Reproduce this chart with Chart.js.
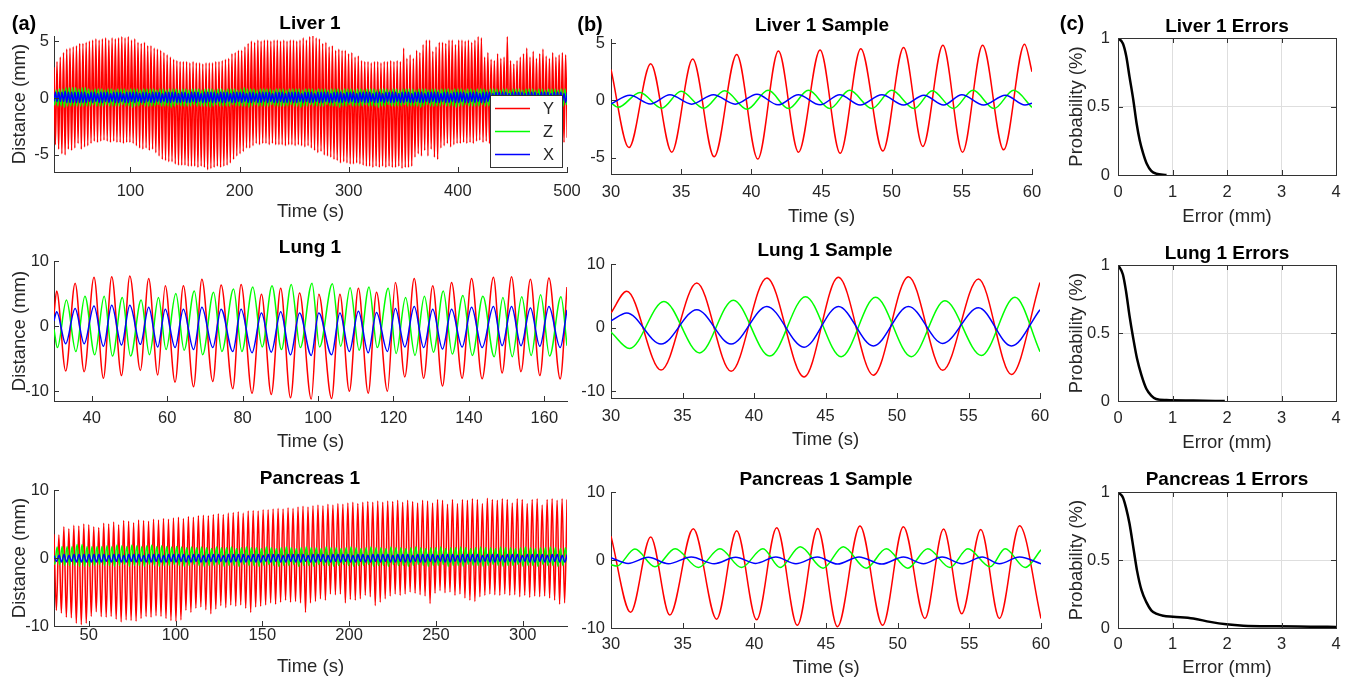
<!DOCTYPE html>
<html>
<head>
<meta charset="utf-8">
<script src="https://cdn.jsdelivr.net/npm/chart.js@4.4.0/dist/chart.umd.min.js"></script>
<style>
  body { margin: 0; background: #fff; }
  #fig { position: relative; width: 1351px; height: 678px; overflow: hidden; font-family: "Liberation Sans", Arial, sans-serif; }
  #fig canvas { position: absolute; left: 0; top: 0; }
  .lbl { position: absolute; transform: translate(-50%, -50%); white-space: nowrap; font-weight: bold; font-size: 19px; line-height: 1; color: #000; }
  .tag { font-size: 20px; }
</style>
</head>
<body>
<div id="fig"></div>
<script>
// ---- tick values ----
const liverTimeTicks = [100, 200, 300, 400, 500];
const lungTimeTicks = [40, 60, 80, 100, 120, 140, 160];
const pancTimeTicks = [50, 100, 150, 200, 250, 300];
const sampleTimeTicks = [30, 35, 40, 45, 50, 55, 60];
const errorTicks = [0, 1, 2, 3, 4];
const liverDistTicks = [-5, 0, 5];
const wideDistTicks = [-10, 0, 10];
const probTicks = [0, 0.5, 1];

// ---- Liver 1, full trace: one trough + one peak per breathing cycle ----
const liverCycle = { t0: 31.28, period: 2.968 };
const liverYTroughs = [
  -4.1,-4.5,-4.9,-5.0,-4.5,-4.6,-4.4,-4.0,-4.5,-4.3,
  -4.2,-4.0,-3.8,-3.9,-3.8,-3.7,-3.8,-3.9,-3.8,-3.9,
  -3.9,-4.0,-3.9,-3.9,-4.0,-4.2,-4.4,-4.5,-4.4,-4.6,
  -4.5,-4.8,-5.1,-5.4,-5.5,-5.6,-5.6,-5.8,-5.9,-5.9,
  -5.9,-6.0,-6.0,-6.0,-6.1,-6.0,-6.1,-6.3,-6.2,-6.1,
  -6.0,-6.1,-6.0,-5.9,-5.7,-5.4,-5.1,-4.9,-4.7,-4.4,
  -4.4,-4.2,-4.0,-4.1,-4.0,-4.0,-4.1,-4.0,-4.1,-4.1,
  -4.1,-4.2,-4.1,-4.1,-4.2,-4.1,-4.2,-4.3,-4.2,-4.4,
  -4.6,-4.8,-4.7,-5.0,-5.1,-5.2,-5.4,-5.5,-5.7,-5.6,
  -5.7,-5.8,-5.8,-5.7,-5.8,-5.9,-6.0,-6.0,-6.1,-6.0,
  -6.1,-6.0,-6.1,-6.0,-6.1,-6.1,-6.0,-6.2,-6.1,-6.1,
  -6.0,-5.2,-4.9,-5.1,-4.6,-5.1,-4.5,-5.2,-5.4,-4.4,
  -4.2,-4.0,-4.3,-4.1,-4.0,-4.0,-3.9,-4.0,-3.9,-4.0,
  -3.8,-3.7,-3.9,-3.8,-4.0,-3.9,-3.8,-3.9,-4.0,-3.9,
  -3.8,-3.9,-4.0,-3.9,-3.8,-3.9,-4.0,-3.9,-3.8,-3.9,
  -4.0,-3.9,-3.8,-3.9,-4.0,-3.9,-3.8,-3.9,-3.5
];
const liverYPeaks = [
  3.2,3.6,4.0,4.3,4.4,4.5,4.6,4.8,4.8,4.9,
  5.0,5.1,5.2,5.1,5.2,5.3,5.1,5.3,5.2,5.3,
  5.4,5.3,5.4,5.1,5.2,4.9,4.8,4.9,4.6,4.6,
  4.4,4.3,4.2,4.0,3.8,3.6,3.4,3.3,3.2,3.2,
  3.2,3.1,3.2,3.1,3.1,3.0,3.1,3.1,3.1,3.2,
  3.2,3.3,3.4,3.5,3.9,4.0,4.2,4.2,4.5,4.8,
  5.0,4.9,5.1,5.0,5.1,5.1,5.0,5.1,5.1,5.0,
  5.1,5.0,5.1,5.1,5.0,5.1,5.3,5.1,5.4,5.5,
  5.3,5.2,4.8,4.9,4.5,4.6,4.2,4.3,4.2,4.2,
  3.9,4.0,3.6,3.7,3.3,3.2,3.2,3.1,3.2,3.2,
  3.1,3.2,3.2,3.3,3.2,3.3,3.2,4.4,3.5,3.8,
  3.5,4.2,4.0,4.7,5.1,5.1,4.1,4.5,4.9,4.9,
  4.8,5.1,5.1,4.7,5.1,5.1,5.0,5.1,4.9,5.1,
  5.4,5.3,3.6,4.0,3.4,3.3,3.9,3.5,3.6,5.4,
  3.3,3.0,3.3,3.6,3.9,4.4,3.6,4.1,3.5,3.9,
  4.3,3.7,3.5,4.0,3.6,3.8,4.0,3.8
];
const liverZTroughs = [
  -0.6,-0.7,-0.7,-0.8,-0.7,-0.7,-0.7,-0.7,-0.7,-0.7,
  -0.7,-0.7,-0.6,-0.7,-0.7,-0.7,-0.6,-0.7,-0.7,-0.7,
  -0.7,-0.6,-0.7,-0.7,-0.8,-0.7,-0.7,-0.6,-0.7,-0.7,
  -0.7,-0.7,-0.6,-0.7,-0.7,-0.7,-0.8,-0.7,-0.6,-0.7,
  -0.7,-0.7,-0.7,-0.6,-0.7,-0.7,-0.7,-0.7,-0.8,-0.7,
  -0.6,-0.7,-0.7,-0.7,-0.7,-0.6,-0.7,-0.7,-0.7,-0.7,
  -0.8,-0.7,-0.6,-0.7,-0.7,-0.7,-0.7,-0.6,-0.7,-0.7,
  -0.7,-0.7,-0.7,-0.6,-0.7,-0.7,-0.8,-0.7,-0.7,-0.6,
  -0.7,-0.7,-0.7,-0.7,-0.6,-0.7,-0.7,-0.7,-0.8,-0.7,
  -0.7,-0.6,-0.7,-0.7,-0.7,-0.7,-0.6,-0.7,-0.7,-0.7,
  -0.8,-0.7,-0.7,-0.6,-0.7,-0.7,-0.7,-0.7,-0.6,-0.7,
  -0.7,-0.7,-0.7,-0.8,-0.7,-0.6,-0.7,-0.7,-0.7,-0.7,
  -0.6,-0.7,-0.7,-0.7,-0.8,-0.7,-0.7,-0.6,-0.7,-0.7,
  -0.7,-0.7,-0.6,-0.7,-0.7,-0.7,-0.8,-0.7,-0.6,-0.7,
  -0.7,-0.7,-0.7,-0.6,-0.7,-0.7,-0.7,-0.8,-0.7,-0.7,
  -0.6,-0.7,-0.7,-0.7,-0.7,-0.6,-0.7,-0.7,-0.6
];
const liverZPeaks = [
  0.7,0.8,0.8,0.9,0.9,0.9,0.9,0.8,0.9,0.9,
  0.8,0.7,0.8,0.8,0.8,0.7,0.8,0.8,0.7,0.8,
  0.8,0.8,0.7,0.8,0.8,0.8,0.7,0.8,0.8,0.8,
  0.8,0.7,0.8,0.8,0.7,0.8,0.8,0.8,0.7,0.8,
  0.8,0.7,0.8,0.8,0.8,0.7,0.8,0.8,0.8,0.7,
  0.8,0.8,0.7,0.8,0.8,0.8,0.7,0.8,0.9,0.8,
  0.8,0.8,0.7,0.8,0.8,0.8,0.8,0.7,0.8,0.8,
  0.8,0.7,0.8,0.8,0.8,0.8,0.7,0.8,0.8,0.8,
  0.7,0.8,0.8,0.8,0.7,0.8,0.8,0.8,0.7,0.8,
  0.8,0.8,0.7,0.8,0.8,0.7,0.8,0.8,0.8,0.7,
  0.8,0.8,0.8,0.7,0.8,0.8,0.7,0.8,0.8,0.8,
  0.8,0.7,0.8,0.8,0.8,0.7,0.8,0.8,0.7,0.8,
  0.8,0.8,0.7,0.8,0.8,0.8,0.7,0.8,0.8,0.7,
  0.8,0.8,0.8,0.7,0.8,0.8,0.8,0.7,0.8,0.8,
  0.7,0.8,0.8,0.8,0.7,0.8,0.8,0.8,0.7,0.8,
  0.8,0.7,0.8,0.8,0.8,0.7,0.8,0.8
];
const liverXPeaks = [
  0.5,0.5,0.5,0.6,0.5,0.5,0.5,0.5,0.5,0.5,
  0.4,0.5,0.5,0.4,0.5,0.5,0.5,0.4,0.5,0.5,
  0.5,0.4,0.5,0.5,0.5,0.5,0.4,0.5,0.5,0.4,
  0.5,0.5,0.5,0.4,0.5,0.5,0.5,0.5,0.4,0.5,
  0.5,0.4,0.5,0.5,0.5,0.4,0.5,0.5,0.5,0.5,
  0.4,0.5,0.5,0.5,0.4,0.5,0.5,0.5,0.5,0.4,
  0.5,0.5,0.4,0.5,0.5,0.5,0.5,0.4,0.5,0.5,
  0.5,0.4,0.5,0.5,0.5,0.5,0.4,0.5,0.5,0.5,
  0.4,0.5,0.5,0.5,0.5,0.4,0.5,0.5,0.5,0.4,
  0.5,0.5,0.5,0.4,0.5,0.5,0.5,0.5,0.4,0.5,
  0.5,0.4,0.5,0.5,0.5,0.5,0.4,0.5,0.5,0.5,
  0.4,0.5,0.5,0.5,0.4,0.5,0.5,0.5,0.5,0.4,
  0.5,0.5,0.4,0.5,0.5,0.5,0.5,0.4,0.5,0.5,
  0.5,0.4,0.5,0.5,0.5,0.4,0.5,0.5,0.5,0.5,
  0.4,0.5,0.5,0.5,0.5,0.4,0.5,0.5,0.5,0.4,
  0.5,0.5,0.5,0.4,0.5,0.5,0.5,0.4,0.5
];
const liverXTroughs = [
  -0.3,-0.3,-0.3,-0.4,-0.4,-0.4,-0.4,-0.4,-0.4,-0.4,
  -0.3,-0.4,-0.3,-0.4,-0.4,-0.3,-0.4,-0.3,-0.4,-0.4,
  -0.3,-0.4,-0.4,-0.3,-0.4,-0.3,-0.4,-0.4,-0.3,-0.4,
  -0.4,-0.3,-0.4,-0.3,-0.4,-0.4,-0.3,-0.4,-0.4,-0.3,
  -0.4,-0.4,-0.3,-0.4,-0.3,-0.4,-0.4,-0.3,-0.4,-0.4,
  -0.3,-0.4,-0.4,-0.3,-0.4,-0.4,-0.3,-0.4,-0.3,-0.4,
  -0.4,-0.3,-0.4,-0.4,-0.3,-0.4,-0.3,-0.4,-0.4,-0.3,
  -0.4,-0.4,-0.3,-0.4,-0.4,-0.3,-0.4,-0.3,-0.4,-0.4,
  -0.3,-0.4,-0.4,-0.3,-0.4,-0.4,-0.3,-0.4,-0.4,-0.3,
  -0.4,-0.3,-0.4,-0.4,-0.3,-0.4,-0.4,-0.3,-0.4,-0.4,
  -0.3,-0.4,-0.3,-0.4,-0.4,-0.3,-0.4,-0.4,-0.3,-0.4,
  -0.4,-0.3,-0.4,-0.4,-0.3,-0.4,-0.3,-0.4,-0.4,-0.3,
  -0.4,-0.4,-0.3,-0.4,-0.4,-0.3,-0.4,-0.4,-0.3,-0.4,
  -0.3,-0.4,-0.4,-0.3,-0.4,-0.4,-0.3,-0.4,-0.4,-0.3,
  -0.4,-0.4,-0.3,-0.4,-0.3,-0.4,-0.4,-0.3,-0.4,-0.4,
  -0.3,-0.4,-0.4,-0.3,-0.4,-0.4,-0.3,-0.4
];

// ---- Lung 1, full trace (time, mm) ----
const lungY = [
  [30,1.8],[30.7,5.4],[33.1,-6.9],[35.6,6.6],[38.0,-7.0],[40.6,7.5],[43.1,-8.0],[45.3,7.6],
  [47.9,-7.6],[50.1,7.7],[52.9,-6.8],[55.1,7.3],[57.5,-7.5],[59.5,6.2],[62.1,-8.6],[64.3,6.2],
  [67.0,-9.3],[69.2,7.2],[72.1,-8.5],[74.3,6.3],[77.4,-9.6],[79.6,6.4],[82.5,-10.3],[85.0,4.9],
  [87.6,-10.5],[90.1,5.8],[92.7,-11.0],[95.1,5.1],[98.2,-11.2],[100.2,4.9],[103.6,-11.1],[105.8,4.9],
  [108.3,-10.0],[110.7,5.8],[113.3,-10.3],[115.5,5.2],[118.4,-10.0],[120.5,6.7],[123.0,-7.8],[125.5,7.3],
  [128.0,-8.0],[130.4,6.2],[133.0,-9.2],[135.4,6.7],[138.2,-8.0],[140.7,7.3],[143.5,-8.1],[146.5,7.5],
  [148.8,-7.2],[151.3,7.6],[153.8,-7.0],[156.3,7.2],[158.8,-7.6],[161.2,7.4],[164.2,-8.1],[166,6.0]
];
const lungZ = [
  [30,-0.5],[30.9,-3.3],[33.3,4.0],[35.8,-3.9],[38.2,4.6],[40.8,-4.4],[43.3,4.6],[45.5,-4.6],
  [48.1,4.4],[50.3,-4.6],[53.1,4.0],[55.3,-4.4],[57.7,4.4],[59.7,-3.6],[62.3,5.0],[64.5,-3.7],
  [67.2,5.4],[69.4,-4.4],[72.3,5.2],[74.5,-3.9],[77.6,5.7],[79.8,-3.9],[82.7,6.0],[85.2,-3.2],
  [87.8,6.2],[90.3,-3.6],[92.9,6.4],[95.3,-3.3],[98.4,6.6],[100.4,-3.2],[103.8,6.5],[106.0,-3.1],
  [108.5,5.9],[110.9,-3.7],[113.5,6.0],[115.7,-3.3],[118.6,5.8],[120.7,-4.2],[123.2,4.4],[125.7,-4.5],
  [128.2,4.6],[130.6,-4.0],[133.2,5.4],[135.6,-4.3],[138.4,4.7],[140.9,-4.5],[143.7,4.6],[146.7,-4.7],
  [149.0,4.4],[151.5,-4.7],[154.0,4.5],[156.5,-4.5],[159.0,4.8],[161.4,-4.6],[164.4,4.5],[166,-3.0]
];
const lungX = [
  [30,0.8],[30.7,2.2],[33.1,-2.7],[35.6,2.7],[38.0,-2.7],[40.6,3.1],[43.1,-3.1],[45.3,3.2],
  [47.9,-2.9],[50.1,3.2],[52.9,-2.8],[55.1,2.9],[57.5,-3.2],[59.5,2.6],[62.1,-3.3],[64.3,2.6],
  [67.0,-3.6],[69.2,2.9],[72.1,-3.3],[74.3,2.6],[77.4,-3.9],[79.6,2.6],[82.5,-4.1],[85.0,2.0],
  [87.6,-4.0],[90.1,2.2],[92.7,-4.4],[95.1,2.0],[98.2,-4.5],[100.2,2.0],[103.6,-4.4],[105.8,2.0],
  [108.3,-3.9],[110.7,2.3],[113.3,-4.1],[115.5,2.1],[118.4,-3.9],[120.5,2.7],[123.0,-3.2],[125.5,3.0],
  [128.0,-3.3],[130.4,2.6],[133.0,-3.5],[135.4,2.6],[138.2,-3.2],[140.7,2.9],[143.5,-3.3],[146.5,3.0],
  [148.8,-3.0],[151.3,3.0],[153.8,-3.0],[156.3,2.8],[158.8,-3.1],[161.2,3.0],[164.2,-3.3],[166,2.5]
];

// ---- Pancreas 1, full trace: one trough + one peak per cycle ----
const pancCycle = { t0: 31.37, period: 2.87 };
const pancYTroughs = [
  -7.7,-8.1,-8.7,-8.8,-9.6,-9.8,-9.6,-8.6,-7.9,-8.6,
  -8.7,-8.6,-9.0,-9.4,-9.1,-9.2,-9.3,-8.9,-8.6,-8.7,
  -8.5,-8.6,-8.9,-9.2,-9.3,-9.1,-7.7,-8.0,-7.4,-7.2,
  -7.6,-8.2,-7.5,-7.0,-7.3,-6.9,-7.1,-6.9,-7.4,-8.0,
  -7.2,-7.1,-6.9,-6.6,-6.8,-6.5,-6.2,-6.5,-6.4,-6.6,
  -8.0,-6.6,-6.4,-6.0,-6.2,-5.3,-5.4,-5.3,-6.6,-6.1,
  -6.2,-6.0,-5.5,-5.7,-7.0,-6.5,-6.0,-5.6,-5.3,-5.5,
  -5.3,-5.0,-5.2,-5.4,-5.6,-6.7,-5.2,-4.8,-5.1,-5.0,
  -5.5,-5.3,-5.9,-6.2,-6.4,-5.7,-5.5,-5.3,-5.4,-5.5,
  -5.3,-5.5,-5.4,-5.7,-5.5,-5.8,-5.6,-5.7,-5.6,-5.9,
  -6.2,-6.8,-6.6
];
const pancYPeaks = [
  3.4,4.6,4.3,4.8,4.7,5.0,4.9,4.6,4.5,5.1,
  5.0,5.3,4.9,5.5,5.4,5.2,5.6,5.5,5.4,5.7,
  5.6,5.8,5.7,5.9,6.0,5.8,6.1,6.0,6.2,6.3,
  6.2,6.4,6.5,6.4,6.6,6.7,6.8,6.6,6.9,7.0,
  6.9,7.1,7.1,7.2,7.3,7.2,7.4,7.3,7.5,7.6,
  7.5,7.7,7.8,7.7,7.9,7.8,8.0,7.9,8.1,8.2,
  8.0,8.2,8.3,8.2,8.4,8.2,8.4,8.3,8.5,8.2,
  8.5,8.3,8.1,8.5,8.4,8.1,8.6,8.5,7.9,8.6,
  8.0,8.6,8.5,8.7,8.6,8.0,8.8,8.6,8.5,8.7,
  8.6,8.1,8.7,8.6,8.0,8.6,8.7,7.8,8.6,8.7,
  8.5,8.7,8.6
];
const pancZPeaks = [
  1.6,1.7,1.7,1.7,2.0,2.0,1.7,1.7,1.7,1.7,
  1.8,1.7,1.9,1.8,1.7,1.9,1.8,1.7,1.8,1.9,
  1.7,1.8,1.7,1.6,1.7,1.6,1.5,1.6,1.5,1.6,
  1.5,1.4,1.6,1.5,1.5,1.6,1.4,1.5,1.6,1.5,
  1.5,1.4,1.6,1.5,1.4,1.5,1.6,1.5,1.4,1.5,
  1.6,1.5,1.5,1.4,1.6,1.5,1.5,1.4,1.5,1.6,
  1.5,1.4,1.5,1.6,1.5,1.5,1.4,1.6,1.5,1.5,
  1.4,1.5,1.6,1.5,1.4,1.5,1.5,1.6,1.4,1.5,
  1.5,1.6,1.5,1.4,1.5,1.6,1.5,1.5,1.4,1.6,
  1.5,1.5,1.4,1.5,1.6,1.5,1.4,1.5,1.5,1.6,
  1.5,1.4,1.5
];
const pancZTroughs = [
  -1.0,-1.1,-1.1,-1.1,-1.2,-1.2,-1.2,-1.1,-1.0,-1.1,
  -1.1,-1.2,-1.1,-1.0,-1.2,-1.1,-1.1,-1.2,-1.0,-1.1,
  -1.2,-1.1,-1.1,-1.0,-1.1,-1.2,-1.1,-1.0,-1.1,-1.2,
  -1.1,-1.1,-1.0,-1.2,-1.1,-1.1,-1.2,-1.0,-1.1,-1.1,
  -1.2,-1.1,-1.0,-1.1,-1.2,-1.1,-1.1,-1.0,-1.2,-1.1,
  -1.1,-1.2,-1.0,-1.1,-1.1,-1.2,-1.1,-1.0,-1.1,-1.2,
  -1.1,-1.1,-1.0,-1.2,-1.1,-1.1,-1.2,-1.0,-1.1,-1.1,
  -1.2,-1.1,-1.0,-1.1,-1.2,-1.1,-1.1,-1.0,-1.2,-1.1,
  -1.1,-1.2,-1.0,-1.1,-1.1,-1.2,-1.1,-1.0,-1.1,-1.2,
  -1.1,-1.1,-1.0,-1.2,-1.1,-1.1,-1.2,-1.0,-1.1,-1.1,
  -1.2,-1.1,-1.0
];
const pancXTroughs = [
  -0.5,-0.6,-0.6,-0.5,-0.6,-0.6,-0.6,-0.6,-0.6,-0.6,
  -0.5,-0.6,-0.5,-0.6,-0.6,-0.5,-0.6,-0.5,-0.6,-0.6,
  -0.5,-0.6,-0.6,-0.5,-0.6,-0.5,-0.6,-0.6,-0.5,-0.6,
  -0.6,-0.5,-0.6,-0.5,-0.6,-0.6,-0.5,-0.6,-0.6,-0.5,
  -0.6,-0.6,-0.5,-0.6,-0.5,-0.6,-0.6,-0.5,-0.6,-0.6,
  -0.5,-0.6,-0.6,-0.5,-0.6,-0.6,-0.5,-0.6,-0.5,-0.6,
  -0.6,-0.5,-0.6,-0.6,-0.5,-0.6,-0.5,-0.6,-0.6,-0.5,
  -0.6,-0.6,-0.5,-0.6,-0.6,-0.5,-0.6,-0.5,-0.6,-0.6,
  -0.5,-0.6,-0.6,-0.5,-0.6,-0.6,-0.5,-0.6,-0.6,-0.5,
  -0.6,-0.5,-0.6,-0.6,-0.5,-0.6,-0.6,-0.5,-0.6,-0.6,
  -0.5,-0.6,-0.6
];
const pancXPeaks = [
  0.4,0.5,0.4,0.5,0.5,0.5,0.5,0.5,0.5,0.5,
  0.4,0.5,0.5,0.4,0.5,0.5,0.5,0.4,0.5,0.5,
  0.5,0.4,0.5,0.5,0.5,0.5,0.4,0.5,0.5,0.4,
  0.5,0.5,0.5,0.4,0.5,0.5,0.5,0.5,0.4,0.5,
  0.5,0.4,0.5,0.5,0.5,0.4,0.5,0.5,0.5,0.5,
  0.4,0.5,0.5,0.5,0.4,0.5,0.5,0.5,0.5,0.4,
  0.5,0.5,0.4,0.5,0.5,0.5,0.5,0.4,0.5,0.5,
  0.5,0.4,0.5,0.5,0.5,0.5,0.4,0.5,0.5,0.5,
  0.4,0.5,0.5,0.5,0.5,0.4,0.5,0.5,0.5,0.4,
  0.5,0.5,0.5,0.4,0.5,0.5,0.5,0.5,0.4,0.5,
  0.5,0.4,0.5
];

// ---- 30 s samples (time, mm) ----
const liverSampleY = [
  [30,2.7],[31.28,-4.1],[32.83,3.2],[34.33,-4.5],[35.82,3.6],[37.35,-4.9],[38.96,4.0],[40.46,-5.1],
  [41.93,4.3],[43.36,-4.5],[44.90,4.4],[46.33,-4.6],[47.80,4.5],[49.37,-4.4],[50.85,4.6],[52.22,-4.0],
  [53.65,4.8],[55.05,-4.5],[56.48,4.8],[57.98,-4.3],[59.47,4.9],[60,2.5]
];
const liverSampleZ = [
  [30,-0.2],[30.5,-0.6],[32.07,0.7],[33.6,-0.67],[35.0,0.8],[36.6,-0.67],[38.1,0.85],[39.7,-0.76],
  [41.2,0.88],[42.65,-0.7],[44.07,0.88],[45.6,-0.7],[47.0,0.88],[48.6,-0.7],[50.0,0.88],[51.6,-0.7],
  [52.9,0.85],[54.4,-0.7],[55.8,0.88],[57.3,-0.7],[58.7,0.88],[60,-0.6]
];
const liverSampleX = [
  [30,-0.3],[31.35,0.45],[32.8,-0.3],[34.2,0.5],[35.75,-0.32],[37.3,0.5],[38.85,-0.32],[40.4,0.55],
  [41.9,-0.38],[43.35,0.5],[44.9,-0.38],[46.3,0.5],[47.75,-0.4],[49.3,0.5],[50.85,-0.4],[52.3,0.45],
  [53.7,-0.4],[55.0,0.5],[56.55,-0.4],[58.1,0.45],[59.5,-0.4],[60,-0.25]
];
const lungSampleY = [
  [30,2.3],[31.1,5.7],[33.5,-6.7],[36.0,7.0],[38.4,-6.9],[40.9,7.8],[43.5,-7.8],[45.9,7.9],
  [48.35,-7.5],[50.8,8.0],[53.2,-6.75],[55.7,7.65],[58.0,-7.4],[60,7.1]
];
const lungSampleZ = [
  [30,-0.7],[31.3,-3.3],[33.7,4.1],[36.2,-4.0],[38.55,4.3],[41.1,-4.5],[43.6,4.85],[46.1,-4.6],
  [48.5,4.75],[51.0,-4.6],[53.35,4.2],[55.9,-4.4],[58.25,4.75],[60,-3.8]
];
const lungSampleX = [
  [30,1.05],[31.1,2.3],[33.5,-2.6],[36.0,2.8],[38.4,-2.6],[40.9,3.3],[43.5,-3.1],[45.9,3.3],
  [48.35,-2.9],[50.8,3.3],[53.2,-2.5],[55.7,3.1],[58.0,-2.9],[60,2.8]
];
const pancSampleY = [
  [30,3.5],[31.37,-7.7],[32.77,3.4],[34.1,-8.1],[35.74,4.6],[37.37,-8.7],[38.77,4.3],[40.16,-8.8],
  [41.56,4.75],[43.0,-9.6],[44.42,4.65],[45.8,-9.8],[47.37,5.0],[48.95,-9.6],[50.4,4.9],[51.9,-8.6],
  [53.2,4.55],[54.47,-7.9],[55.8,4.5],[57.1,-8.6],[58.5,5.05],[60,-8.6]
];
const pancSampleZ = [
  [30,-0.7],[30.4,-0.9],[31.67,1.6],[33.07,-1.0],[34.47,1.65],[36.1,-1.1],[37.6,1.65],[39.1,-1.1],
  [40.6,1.65],[41.8,-1.1],[43.2,1.95],[44.8,-1.2],[46.2,1.95],[47.8,-1.2],[49.2,1.65],[50.7,-1.2],
  [52.1,1.65],[53.65,-1.1],[54.9,1.65],[56.45,-1.0],[57.5,1.65],[58.9,-1.1],[60,1.5]
];
const pancSampleX = [
  [30,0.35],[31.2,-0.5],[32.6,0.4],[34.0,-0.55],[35.6,0.45],[37.2,-0.55],[38.7,0.4],[40.1,-0.5],
  [41.5,0.45],[42.9,-0.55],[44.4,0.45],[45.8,-0.6],[47.3,0.45],[48.9,-0.6],[50.4,0.45],[51.8,-0.55],
  [53.1,0.45],[54.5,-0.55],[55.9,0.45],[57.1,-0.55],[58.5,0.45],[60,-0.55]
];

// ---- error distributions (mm, probability) ----
const liverErr = [[0,1],[0.09,0.96],[0.15,0.87],[0.21,0.72],[0.28,0.55],[0.34,0.38],[0.4,0.25],[0.46,0.16],[0.53,0.08],[0.61,0.03],[0.7,0.01],[0.89,0]];
const lungErr = [[0,1],[0.09,0.93],[0.15,0.8],[0.21,0.63],[0.28,0.46],[0.35,0.31],[0.43,0.19],[0.52,0.09],[0.61,0.04],[0.7,0.015],[0.89,0.007],[1.38,0.003],[1.96,0]];
const pancErr = [[0,1],[0.09,0.96],[0.15,0.88],[0.21,0.77],[0.29,0.57],[0.35,0.42],[0.43,0.28],[0.52,0.19],[0.61,0.13],[0.7,0.105],[0.83,0.09],[1.01,0.083],[1.38,0.07],[1.69,0.045],[1.99,0.027],[2.3,0.017],[2.91,0.012],[3.53,0.01],[4.0,0.008]];

// ------------------------------------------------------------------
const W = 1351, H = 678;
const RED = '#ff0000', GREEN = '#00ff00', BLUE = '#0000ff';
const AXIS = '#333333', TEXT = '#262626';
Chart.defaults.font.family = '"Liberation Sans", Arial, sans-serif';
Chart.defaults.color = TEXT;

const pts = list => list.map(([x, y]) => ({ x, y }));

// lead points, then alternating values on the cycle grid
function cycleSeries(lead, t0, period, first, second) {
  const out = pts(lead);
  first.forEach((v, k) => {
    out.push({ x: t0 + k * period, y: v });
    if (k < second.length) out.push({ x: t0 + k * period + period / 2, y: second[k] });
  });
  return out;
}

function trace(data, color, order, width) {
  return { data, borderColor: color, borderWidth: width || 1.5, order, fill: false,
           pointRadius: 0, cubicInterpolationMode: 'monotone' };
}

const L = liverCycle, P = pancCycle;
const panels = [
  { box: [54, 36, 567, 172], x: [30, 500], y: [-6.5, 5.45], xTicks: liverTimeTicks, yTicks: liverDistTicks,
    yTitle: 'Distance (mm)', xTitle: 'Time (s)', tickPad: 10, titleOff: 40, yLabelPad: 5, yTitleX: 20, legend: true,
    datasets: [
      trace(cycleSeries([[30, -0.3]], L.t0 + 0.05, L.period, liverXPeaks, liverXTroughs), BLUE, 1),
      trace(cycleSeries([[30, -0.2]], L.t0 - 0.74, L.period, liverZTroughs, liverZPeaks), GREEN, 2),
      trace(cycleSeries([[30, 2.7]], L.t0, L.period, liverYTroughs, liverYPeaks), RED, 3)
    ] },
  { box: [611, 39, 1032, 174], x: [30, 60], y: [-6.4, 5.35], xTicks: sampleTimeTicks, yTicks: liverDistTicks,
    xTitle: 'Time (s)', tickPad: 9, titleOff: 43, yLabelPad: 6,
    datasets: [trace(pts(liverSampleX), BLUE, 1), trace(pts(liverSampleZ), GREEN, 2), trace(pts(liverSampleY), RED, 3)] },
  { box: [1118, 38, 1336, 175], x: [0, 4], y: [0, 1], xTicks: errorTicks, yTicks: probTicks, boxed: true,
    yTitle: 'Probability (%)', xTitle: 'Error (mm)', tickPad: 8, titleOff: 42, yLabelPad: 8, yTitleX: 1077,
    datasets: [trace(pts(liverErr), '#000', 1, 2.5)] },

  { box: [54, 261, 567, 401], x: [30, 166], y: [-11.5, 10], xTicks: lungTimeTicks, yTicks: wideDistTicks,
    yTitle: 'Distance (mm)', xTitle: 'Time (s)', tickPad: 8, titleOff: 41, yLabelPad: 5, yTitleX: 20,
    datasets: [trace(pts(lungX), BLUE, 1), trace(pts(lungZ), GREEN, 2), trace(pts(lungY), RED, 3)] },
  { box: [611, 264, 1040, 398], x: [30, 60], y: [-11.1, 10], xTicks: sampleTimeTicks, yTicks: wideDistTicks,
    xTitle: 'Time (s)', tickPad: 9, titleOff: 42, yLabelPad: 6,
    datasets: [trace(pts(lungSampleX), BLUE, 1), trace(pts(lungSampleZ), GREEN, 2), trace(pts(lungSampleY), RED, 3)] },
  { box: [1118, 265, 1336, 401], x: [0, 4], y: [0, 1], xTicks: errorTicks, yTicks: probTicks, boxed: true,
    yTitle: 'Probability (%)', xTitle: 'Error (mm)', tickPad: 8, titleOff: 42, yLabelPad: 8, yTitleX: 1077,
    datasets: [trace(pts(lungErr), '#000', 1, 2.5)] },

  { box: [54, 490, 567, 626], x: [30, 325.5], y: [-10, 10], xTicks: pancTimeTicks, yTicks: wideDistTicks,
    yTitle: 'Distance (mm)', xTitle: 'Time (s)', tickPad: 0, titleOff: 41, yLabelPad: 5, yTitleX: 20,
    datasets: [
      trace(cycleSeries([[30, 0.35]], P.t0 + 0.1, P.period, pancXTroughs, pancXPeaks), BLUE, 1),
      trace(cycleSeries([[30, -0.7], [30.4, -0.9]], P.t0 + 0.43, P.period, pancZPeaks, pancZTroughs), GREEN, 2),
      trace(cycleSeries([[30, 3.5]], P.t0, P.period, pancYTroughs, pancYPeaks), RED, 3)
    ] },
  { box: [611, 492, 1041, 628], x: [30, 60], y: [-10, 10], xTicks: sampleTimeTicks, yTicks: wideDistTicks,
    xTitle: 'Time (s)', tickPad: 7, titleOff: 40, yLabelPad: 6,
    datasets: [trace(pts(pancSampleX), BLUE, 1), trace(pts(pancSampleZ), GREEN, 2), trace(pts(pancSampleY), RED, 3)] },
  { box: [1118, 492, 1336, 628], x: [0, 4], y: [0, 1], xTicks: errorTicks, yTicks: probTicks, boxed: true,
    yTitle: 'Probability (%)', xTitle: 'Error (mm)', tickPad: 7, titleOff: 40, yLabelPad: 8, yTitleX: 1077,
    datasets: [trace(pts(pancErr), '#000', 1, 2.5)] }
];

const headings = [
  ['(a)', 24, 23, true], ['(b)', 590, 24, true], ['(c)', 1072, 23, true],
  ['Liver 1', 310, 22], ['Liver 1 Sample', 822, 24], ['Liver 1 Errors', 1227, 25],
  ['Lung 1', 310, 246], ['Lung 1 Sample', 825, 249], ['Lung 1 Errors', 1227, 252],
  ['Pancreas 1', 310, 477], ['Pancreas 1 Sample', 826, 478], ['Pancreas 1 Errors', 1227, 478]
];

const fig = document.getElementById('fig');
const TICK_FONT = { size: 16.5 };
const TITLE_FONT = { size: 18.5 };
const HALF_TITLE = 18.5 * 1.2 / 2;

function makePanel(p) {
  const cv = document.createElement('canvas');
  cv.width = W; cv.height = H;
  fig.appendChild(cv);
  const [l, t, r, b] = p.box;
  const yWidth = p.yTitle ? l - (p.yTitleX - HALF_TITLE) : 40;
  const xHeight = p.titleOff + HALF_TITLE;

  // inward tick marks, closed box and the Y/Z/X key
  const frame = {
    id: 'frame',
    afterDraw(chart) {
      const { ctx, chartArea: a, scales: { x, y } } = chart;
      ctx.save();
      ctx.strokeStyle = AXIS;
      ctx.lineWidth = 1;
      ctx.beginPath();
      x.ticks.forEach(tk => {
        const px = Math.round(x.getPixelForValue(tk.value)) + 0.5;
        ctx.moveTo(px, a.bottom); ctx.lineTo(px, a.bottom - 5);
        if (p.boxed) { ctx.moveTo(px, a.top); ctx.lineTo(px, a.top + 5); }
      });
      y.ticks.forEach(tk => {
        const py = Math.round(y.getPixelForValue(tk.value)) + 0.5;
        ctx.moveTo(a.left, py); ctx.lineTo(a.left + 5, py);
        if (p.boxed) { ctx.moveTo(a.right, py); ctx.lineTo(a.right - 5, py); }
      });
      ctx.stroke();
      if (p.boxed) {
        ctx.strokeRect(Math.round(a.left) + 0.5, Math.round(a.top) + 0.5, Math.round(a.right - a.left), Math.round(a.bottom - a.top));
      }
      if (p.legend) {
        const keys = [['Y', RED], ['Z', GREEN], ['X', BLUE]];
        ctx.fillStyle = '#fff';
        ctx.fillRect(490, 95, 72, 72);
        ctx.strokeStyle = AXIS;
        ctx.strokeRect(490.5, 95.5, 72, 72);
        ctx.font = '16.5px "Liberation Sans", Arial, sans-serif';
        ctx.textBaseline = 'middle';
        keys.forEach(([name, col], i) => {
          const ky = 108.5 + i * 23;
          ctx.strokeStyle = col; ctx.lineWidth = 1.5;
          ctx.beginPath(); ctx.moveTo(495, ky); ctx.lineTo(530, ky); ctx.stroke();
          ctx.fillStyle = TEXT;
          ctx.fillText(name, 543, ky + 1);
        });
      }
      ctx.restore();
    }
  };

  const axisBase = (vals, font) => ({
    type: 'linear',
    afterBuildTicks: s => { s.ticks = vals.map(v => ({ value: v })); },
    grid: p.boxed
      ? { display: true, drawTicks: false, color: '#dedede', lineWidth: 1 }
      : { display: false, drawTicks: false },
    border: { display: true, color: AXIS, width: 1 }
  });

  new Chart(cv, {
    type: 'line',
    data: { datasets: p.datasets },
    options: {
      responsive: false,
      animation: false,
      devicePixelRatio: 1,
      events: [],
      parsing: false,
      layout: { padding: { left: l - yWidth, top: t, right: W - r, bottom: H - b - xHeight } },
      plugins: { legend: { display: false }, tooltip: { enabled: false }, title: { display: false } },
      scales: {
        x: Object.assign(axisBase(p.xTicks), {
          min: p.x[0], max: p.x[1],
          afterFit: s => { s.height = xHeight; },
          ticks: { padding: p.tickPad, color: TEXT, font: TICK_FONT, maxRotation: 0, autoSkip: false, callback: v => String(v) },
          title: { display: true, text: p.xTitle, color: TEXT, font: TITLE_FONT, padding: 0 }
        }),
        y: Object.assign(axisBase(p.yTicks), {
          min: p.y[0], max: p.y[1],
          afterFit: s => { s.width = yWidth; },
          ticks: { padding: p.yLabelPad, color: TEXT, font: TICK_FONT, autoSkip: false, callback: v => String(v) },
          title: { display: !!p.yTitle, text: p.yTitle || '', color: TEXT, font: TITLE_FONT, padding: 0 }
        })
      }
    },
    plugins: [frame]
  });
}

panels.forEach(makePanel);

headings.forEach(([text, x, y, tag]) => {
  const d = document.createElement('div');
  d.className = tag ? 'lbl tag' : 'lbl';
  d.textContent = text;
  d.style.left = x + 'px';
  d.style.top = y + 'px';
  fig.appendChild(d);
});
</script>
</body>
</html>
